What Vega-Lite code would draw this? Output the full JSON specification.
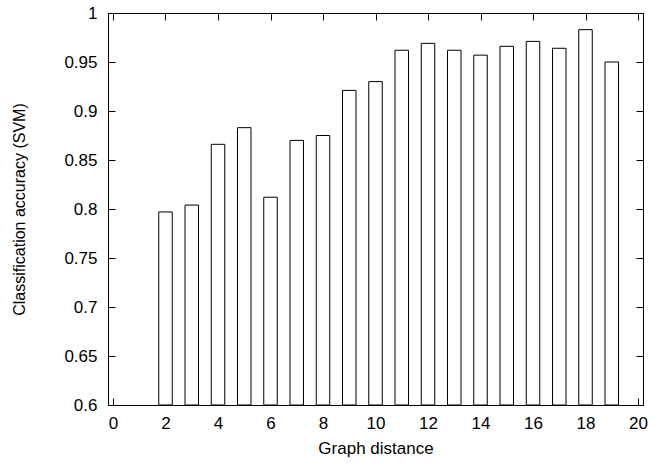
{
  "$schema": "https://vega.github.io/schema/vega-lite/v6.json",
  "width": 535,
  "height": 392,
  "autosize": "none",
  "padding": {"left": 108, "top": 13, "right": 12, "bottom": 62},
  "background": "white",
  "config": {
    "view": {"stroke": "black", "strokeWidth": 1},
    "axis": {
      "labelFont": "Liberation Sans",
      "titleFont": "Liberation Sans",
      "labelFontSize": 17,
      "titleFontSize": 16,
      "titleFontWeight": "normal",
      "labelColor": "black",
      "titleColor": "black",
      "domainColor": "black",
      "tickColor": "black",
      "grid": false,
      "tickSize": -7,
      "tickWidth": 1
    }
  },
  "data": {
    "values": [
      {"distance": 2, "accuracy": 0.797},
      {"distance": 3, "accuracy": 0.804},
      {"distance": 4, "accuracy": 0.866},
      {"distance": 5, "accuracy": 0.883},
      {"distance": 6, "accuracy": 0.812},
      {"distance": 7, "accuracy": 0.870},
      {"distance": 8, "accuracy": 0.875},
      {"distance": 9, "accuracy": 0.921},
      {"distance": 10, "accuracy": 0.930},
      {"distance": 11, "accuracy": 0.962},
      {"distance": 12, "accuracy": 0.969},
      {"distance": 13, "accuracy": 0.962},
      {"distance": 14, "accuracy": 0.957},
      {"distance": 15, "accuracy": 0.966},
      {"distance": 16, "accuracy": 0.971},
      {"distance": 17, "accuracy": 0.964},
      {"distance": 18, "accuracy": 0.983},
      {"distance": 19, "accuracy": 0.950}
    ]
  },
  "layer": [
    {
      "mark": {"type": "bar", "size": 13.5, "fill": "white", "stroke": "black", "strokeWidth": 1},
      "encoding": {
        "x": {
          "field": "distance",
          "type": "quantitative",
          "scale": {"domain": [0, 20], "nice": false, "zero": false},
          "axis": {"orient": "bottom", "values": [0, 2, 4, 6, 8, 10, 12, 14, 16, 18, 20], "format": "d", "title": "Graph distance", "titleFontSize": 17, "labelPadding": 17, "titlePadding": 9}
        },
        "y": {
          "field": "accuracy",
          "type": "quantitative",
          "scale": {"domain": [0.6, 1], "nice": false, "zero": false},
          "axis": {"orient": "left", "values": [0.6, 0.65, 0.7, 0.75, 0.8, 0.85, 0.9, 0.95, 1], "format": "~g", "title": "Classification accuracy (SVM)", "labelPadding": 18, "titlePadding": 36}
        },
        "y2": {"datum": 0.6}
      }
    },
    {
      "mark": {"type": "bar", "size": 13.5, "opacity": 0},
      "encoding": {
        "x": {
          "field": "distance",
          "type": "quantitative",
          "axis": {"orient": "top", "values": [0, 2, 4, 6, 8, 10, 12, 14, 16, 18, 20], "labels": false, "title": null}
        },
        "y": {
          "field": "accuracy",
          "type": "quantitative",
          "axis": {"orient": "right", "values": [0.6, 0.65, 0.7, 0.75, 0.8, 0.85, 0.9, 0.95, 1], "labels": false, "title": null}
        },
        "y2": {"datum": 0.6}
      }
    }
  ]
}
